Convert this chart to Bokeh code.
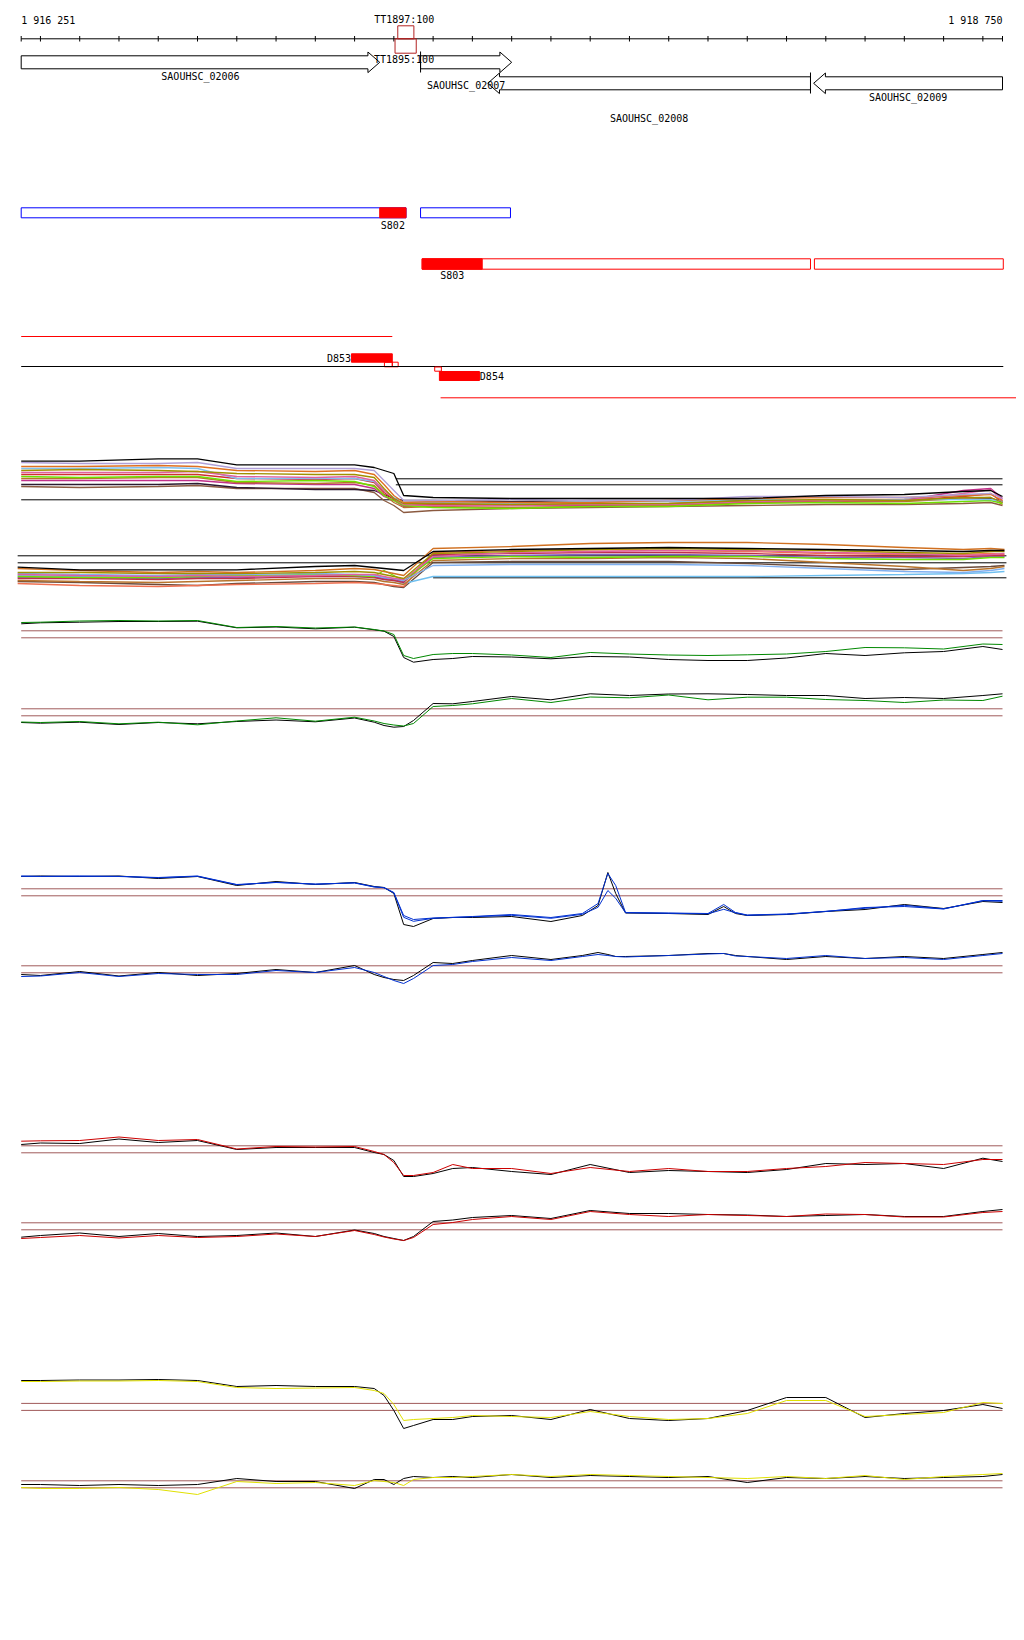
from bokeh.plotting import figure
from bokeh.layouts import column
from bokeh.models import Range1d
from bokeh.core.properties import value
from bokeh.embed import file_html
from bokeh.resources import INLINE

# ---------------- data ----------------
REGION_START = 1916251
REGION_END = 1918750
TICKS = [REGION_START] + list(range(1916300, 1918701, 100)) + [REGION_END]

GENE_NAMES = ["SAOUHSC_02006", "SAOUHSC_02007", "SAOUHSC_02008", "SAOUHSC_02009"]
GENE_START = [1916251, 1917268, 1917439, 1918269]
GENE_END = [1917164, 1917500, 1918261, 1918750]
GENE_STRAND = [1, 1, -1, -1]

TT_NAMES = ["TT1897:100", "TT1895:100"]
TT_START = [1917210, 1917203]
TT_END = [1917251, 1917257]

S_BLUE_START = [1916251, 1917268]
S_BLUE_END = [1917231, 1917497]
S802 = ("S802", 1917164, 1917231)
S_RED_START = [1917272, 1918271]
S_RED_END = [1918261, 1918752]
S803 = ("S803", 1917272, 1917425)

D_LINE_TOP = (1916251, 1917196)
D853 = ("D853", 1917092, 1917196)
D853_SMALL_START = [1917176, 1917196]
D853_SMALL_END = [1917196, 1917211]
D_AXIS = (1916251, 1918752)
D854_SMALL = (1917304, 1917321)
D854 = ("D854", 1917316, 1917418)
D_LINE_BOTTOM = (1917319, 1918800)

# multi-sample tracks
X_AB = [1916251, 1916400, 1916600, 1916700, 1916800, 1917000, 1917100, 1917150, 1917175,
        1917200, 1917225, 1917300, 1917500, 1917700, 1917900, 1918100, 1918300, 1918500,
        1918650, 1918720, 1918750]
A_COLORS = ["#000000", "#b0a0d8", "#e07020", "#a09000", "#e060a0", "#80c0f0", "#70e000",
            "#d03030", "#b8742c", "#c0308a", "#2a1a30", "#8b5a40"]
A_SERIES = [
    [2.83, 2.83, 3.07, 3.07, 2.47, 2.47, 2.47, 2.2, 1.9, 1.6, -0.6, -0.8, -0.9, -0.9, -0.9, -0.9, -0.6, -0.5, -0.2, -0.1, -0.7],
    [2.7, 2.6, 2.6, 2.7, 2.1, 2.1, 2.1, 1.9, 0.9, -0.1, -1.1, -1.1, -1.0, -1.1, -1.1, -0.7, -0.7, -0.8, -0.5, -0.4, -0.9],
    [2.3, 2.3, 2.4, 2.3, 1.9, 1.8, 1.9, 1.5, 0.5, -0.6, -1.3, -1.2, -1.3, -1.3, -1.1, -0.9, -0.8, -0.8, -0.6, -0.5, -1.1],
    [1.9, 2.0, 1.9, 1.8, 1.6, 1.5, 1.5, 1.2, 0.1, -0.9, -1.4, -1.4, -1.5, -1.4, -1.4, -1.1, -1.0, -1.1, -0.8, -0.8, -1.3],
    [1.7, 1.7, 1.7, 1.8, 1.3, 1.2, 1.3, 0.9, -0.1, -0.9, -1.5, -1.6, -1.6, -1.5, -1.5, -1.2, -1.1, -1.1, -0.4, 0.0, -1.1],
    [2.1, 2.1, 2.2, 2.1, 1.1, 1.1, 1.1, 0.8, -0.1, -0.8, -1.3, -1.3, -1.4, -1.2, -1.2, -1.0, -1.1, -1.0, -1.0, -1.0, -1.2],
    [1.3, 1.2, 1.3, 1.3, 0.8, 0.9, 0.8, 0.3, -0.6, -1.1, -1.6, -1.8, -1.9, -1.7, -1.7, -1.4, -1.3, -1.4, -1.2, -1.1, -1.4],
    [1.5, 1.5, 1.5, 1.5, 1.1, 1.0, 1.1, 0.7, -0.3, -1.0, -1.5, -1.5, -1.5, -1.5, -1.4, -1.2, -1.1, -1.1, -0.7, -0.4, -1.3],
    [1.1, 1.1, 1.2, 1.2, 0.7, 0.6, 0.7, 0.4, -0.5, -1.3, -1.8, -1.7, -1.8, -1.7, -1.6, -1.3, -1.2, -1.2, -0.9, -0.8, -1.5],
    [0.9, 0.9, 0.9, 0.9, 0.6, 0.5, 0.5, 0.1, -0.7, -1.1, -1.7, -1.6, -1.6, -1.6, -1.5, -1.3, -1.2, -1.1, -0.1, 0.1, -0.9],
    [0.5, 0.5, 0.5, 0.6, 0.2, 0.0, 0.0, -0.1, -0.5, -0.9, -1.1, -1.1, -1.2, -1.1, -1.1, -1.1, -1.1, -1.0, -0.9, -0.9, -1.2],
    [0.3, 0.2, 0.3, 0.4, 0.1, 0.1, 0.1, -0.3, -1.1, -1.6, -2.3, -2.1, -1.9, -1.8, -1.7, -1.6, -1.5, -1.5, -1.4, -1.3, -1.6],
]
A_THRESH = [-1.03, 1.07, 0.47]

X_B = [1916242, 1916400, 1916600, 1916700, 1916800, 1917000, 1917100, 1917150, 1917175,
       1917200, 1917225, 1917300, 1917500, 1917700, 1917900, 1918100, 1918300, 1918500,
       1918650, 1918720, 1918755]
B_COLORS = ["#000000", "#d07020", "#a09000", "#e060a0", "#80b0f0", "#70e000", "#c0304a",
            "#b8742c", "#f07050", "#8060c0", "#70c0f0", "#6a4a3a"]
B_SERIES = [
    [-0.07, -0.33, -0.33, -0.33, -0.33, 0.0, 0.1, -0.1, -0.2, -0.3, -0.4, 1.5, 1.7, 1.8, 1.9, 1.8, 1.7, 1.6, 1.5, 1.6, 1.6],
    [-0.2, -0.4, -0.6, -0.5, -0.6, -0.4, -0.2, -0.3, -0.5, -0.7, -0.9, 1.8, 2.0, 2.3, 2.4, 2.4, 2.2, 1.9, 1.7, 1.8, 1.7],
    [-0.6, -0.6, -0.7, -0.7, -0.7, -0.6, -0.5, -0.6, -0.8, -1.0, -1.2, 1.3, 1.5, 1.7, 1.8, 1.7, 1.6, 1.4, 1.3, 1.5, 1.5],
    [-0.8, -0.9, -1.0, -0.9, -1.0, -0.9, -0.8, -0.8, -1.0, -1.2, -1.3, 1.0, 1.4, 1.5, 1.6, 1.6, 1.4, 1.3, 1.1, 1.2, 1.3],
    [-0.7, -0.8, -0.9, -0.8, -0.8, -0.7, -0.8, -0.9, -1.1, -1.2, -1.4, 0.1, 0.2, 0.2, 0.2, 0.1, -0.2, -0.5, -0.6, -0.4, -0.2],
    [-1.0, -1.1, -1.1, -1.0, -0.9, -0.8, -0.9, -1.0, -0.4, -0.9, -1.4, 0.8, 1.0, 0.9, 1.0, 1.0, 0.8, 0.7, 0.7, 0.9, 0.9],
    [-1.2, -1.2, -1.3, -1.2, -1.2, -1.0, -1.0, -1.1, -1.3, -1.4, -1.6, 1.2, 1.3, 1.4, 1.4, 1.3, 1.1, 1.0, 1.0, 1.1, 1.1],
    [-1.4, -1.5, -1.6, -1.5, -1.4, -1.2, -1.2, -1.3, -1.5, -1.6, -1.8, 0.6, 0.8, 0.8, 0.9, 0.8, 0.4, 0.0, -0.4, -0.2, 0.0],
    [-1.7, -1.9, -2.0, -1.9, -1.8, -1.7, -1.6, -1.7, -1.8, -1.9, -2.0, 1.4, 1.6, 1.7, 1.6, 1.5, 1.3, 1.2, 1.2, 1.3, 1.2],
    [-1.1, -1.1, -1.2, -1.1, -1.1, -0.9, -0.9, -1.0, -1.2, -1.3, -1.5, 0.9, 1.1, 1.2, 1.2, 1.1, 0.9, 0.9, 0.8, 1.0, 1.0],
    [-0.9, -1.0, -1.0, -1.0, -1.0, -0.9, -1.0, -1.1, -1.3, -1.4, -1.7, -1.0, -1.0, -1.0, -1.0, -1.0, -0.9, -0.8, -0.7, -0.6, -0.5],
    [-1.5, -1.6, -1.8, -1.9, -1.7, -1.5, -1.5, -1.6, -1.8, -2.0, -2.1, 0.4, 0.5, 0.5, 0.5, 0.3, 0.0, -0.3, -0.1, 0.0, 0.1],
]
B_THRESH = [1.07, 0.37, -1.13]

# paired-sample tracks
X_LINES = [1916251, 1916300, 1916400, 1916500, 1916600, 1916700, 1916800, 1916900, 1917000,
           1917100, 1917150, 1917175, 1917200, 1917225, 1917250, 1917300, 1917350, 1917400,
           1917500, 1917600, 1917700, 1917800, 1917900, 1918000, 1918100, 1918200, 1918300,
           1918400, 1918500, 1918600, 1918700, 1918750]
BLUE_X = [1916251, 1916300, 1916400, 1916500, 1916600, 1916700, 1916800, 1916900, 1917000,
          1917100, 1917150, 1917175, 1917200, 1917225, 1917250, 1917300, 1917350, 1917400,
          1917500, 1917600, 1917680, 1917720, 1917745, 1917765, 1917790, 1917900, 1918000,
          1918040, 1918070, 1918100, 1918200, 1918300, 1918400, 1918500, 1918600, 1918700,
          1918750]
THRESH = [0.35, -0.35]

GREEN_TOP_BLACK = [1.05, 1.15, 1.21, 1.28, 1.28, 1.31, 0.65, 0.73, 0.55, 0.71, 0.45, 0.31, -0.22, -2.32, -2.79, -2.52, -2.42, -2.22, -2.27, -2.45, -2.22, -2.27, -2.52, -2.62, -2.62, -2.37, -1.92, -2.12, -1.85, -1.72, -1.22, -1.52]
GREEN_TOP = [1.18, 1.21, 1.33, 1.38, 1.33, 1.38, 0.68, 0.78, 0.63, 0.73, 0.48, 0.33, -0.02, -2.12, -2.42, -2.02, -1.92, -1.92, -2.07, -2.32, -1.82, -1.97, -2.07, -2.12, -2.05, -1.97, -1.72, -1.32, -1.35, -1.47, -0.97, -1.02]
GREEN_BOT_BLACK = [-1.02, -1.09, -0.99, -1.22, -1.02, -1.15, -0.92, -0.77, -0.95, -0.57, -0.99, -1.32, -1.49, -1.42, -0.82, 0.88, 0.85, 1.08, 1.58, 1.25, 1.85, 1.68, 1.83, 1.85, 1.78, 1.68, 1.68, 1.38, 1.48, 1.38, 1.68, 1.85]
GREEN_BOT = [-0.97, -1.02, -0.92, -1.15, -0.99, -1.25, -0.87, -0.55, -0.89, -0.49, -0.87, -1.12, -1.27, -1.37, -1.12, 0.58, 0.68, 0.85, 1.38, 0.98, 1.53, 1.45, 1.73, 1.25, 1.51, 1.51, 1.28, 1.18, 0.98, 1.23, 1.18, 1.61]

BLUE_TOP_BLACK = [1.58, 1.63, 1.58, 1.63, 1.38, 1.58, 0.68, 1.08, 0.78, 0.98, 0.58, 0.48, -0.12, -3.22, -3.42, -2.62, -2.52, -2.52, -2.42, -2.92, -2.32, -1.32, 1.98, -0.12, -2.07, -2.12, -2.22, -1.42, -2.12, -2.32, -2.22, -1.92, -1.72, -1.22, -1.62, -0.92, -1.02]
BLUE_TOP = [1.63, 1.58, 1.63, 1.58, 1.48, 1.63, 0.78, 0.98, 0.83, 0.93, 0.53, 0.48, -0.02, -2.32, -2.72, -2.57, -2.52, -2.42, -2.22, -2.52, -2.12, -1.12, 1.88, 0.68, -2.02, -2.07, -2.12, -1.22, -2.02, -2.27, -2.17, -1.92, -1.52, -1.42, -1.67, -0.82, -0.82]
BLUE_TOP_2 = [1.6, 1.6, 1.6, 1.6, 1.45, 1.6, 0.75, 1.0, 0.8, 0.95, 0.55, 0.45, -0.05, -2.5, -2.9, -2.6, -2.5, -2.45, -2.3, -2.6, -2.2, -1.5, 0.18, -0.6, -2.05, -2.1, -2.15, -1.7, -2.05, -2.3, -2.2, -1.9, -1.6, -1.3, -1.65, -0.85, -0.9]
BLUE_BOT_BLACK = [-0.52, -0.62, -0.22, -0.67, -0.32, -0.62, -0.42, -0.02, -0.32, 0.38, -0.52, -0.82, -1.02, -1.12, -0.62, 0.68, 0.58, 0.88, 1.38, 0.98, 1.38, 1.68, 1.48, 1.28, 1.28, 1.38, 1.58, 1.58, 1.38, 1.28, 0.98, 1.28, 1.08, 1.28, 1.08, 1.48, 1.68]
BLUE_BOT = [-0.72, -0.67, -0.32, -0.72, -0.42, -0.52, -0.52, -0.12, -0.32, 0.18, -0.32, -0.72, -1.12, -1.42, -0.92, 0.38, 0.48, 0.78, 1.18, 0.88, 1.28, 1.48, 1.38, 1.28, 1.23, 1.38, 1.53, 1.58, 1.33, 1.28, 1.08, 1.38, 1.08, 1.18, 0.98, 1.38, 1.58]

RED_TOP_BLACK = [0.48, 0.63, 0.58, 1.03, 0.68, 0.88, -0.02, 0.18, 0.18, 0.18, -0.32, -0.52, -1.12, -2.72, -2.72, -2.42, -1.92, -1.82, -2.22, -2.52, -1.52, -2.32, -2.12, -2.22, -2.32, -2.02, -1.42, -1.52, -1.42, -1.92, -0.89, -1.22]
RED_TOP = [0.81, 0.85, 0.88, 1.23, 0.88, 0.98, 0.03, 0.28, 0.23, 0.28, -0.22, -0.52, -1.32, -2.62, -2.62, -2.32, -1.52, -1.92, -1.92, -2.42, -1.82, -2.22, -1.92, -2.22, -2.22, -1.92, -1.72, -1.32, -1.42, -1.52, -1.02, -1.02]
RED_BOT_BLACK = [-1.09, -0.92, -0.67, -1.02, -0.72, -1.02, -0.92, -0.67, -1.02, -0.37, -0.72, -1.02, -1.22, -1.42, -1.02, 0.48, 0.63, 0.88, 1.08, 0.78, 1.58, 1.28, 1.28, 1.18, 1.13, 0.98, 1.08, 1.18, 0.98, 0.98, 1.48, 1.68]
RED_BOT = [-1.22, -1.12, -0.92, -1.17, -0.92, -1.12, -1.02, -0.77, -1.02, -0.42, -0.82, -1.07, -1.27, -1.42, -1.12, 0.18, 0.38, 0.68, 0.98, 0.68, 1.48, 1.18, 0.98, 1.18, 1.08, 0.98, 1.23, 1.18, 0.93, 0.93, 1.38, 1.48]

YEL_TOP_BLACK = [2.64, 2.64, 2.69, 2.69, 2.74, 2.64, 2.04, 2.14, 2.04, 2.04, 1.84, 1.14, -0.36, -2.16, -1.86, -1.26, -1.26, -0.96, -0.86, -1.26, -0.26, -1.16, -1.36, -1.16, -0.36, 0.94, 0.94, -1.06, -0.66, -0.36, 0.24, -0.16]
YEL_TOP = [2.54, 2.54, 2.59, 2.59, 2.64, 2.54, 1.94, 1.84, 1.89, 1.94, 1.64, 1.34, 0.24, -1.36, -1.26, -1.16, -1.06, -0.86, -0.96, -1.06, -0.46, -0.96, -1.26, -1.16, -0.66, 0.64, 0.64, -0.96, -0.76, -0.56, 0.44, 0.34]
YEL_BOT_BLACK = [-0.02, -0.02, -0.12, -0.02, -0.12, -0.02, 0.58, 0.28, 0.28, -0.42, 0.48, 0.48, -0.02, 0.58, 0.78, 0.68, 0.78, 0.68, 0.98, 0.68, 0.88, 0.78, 0.68, 0.78, 0.18, 0.68, 0.58, 0.78, 0.58, 0.68, 0.78, 0.98]
YEL_BOT = [-0.32, -0.42, -0.42, -0.32, -0.52, -1.02, 0.28, 0.08, 0.18, -0.12, 0.38, 0.28, 0.18, -0.12, 0.48, 0.68, 0.68, 0.78, 0.98, 0.78, 0.98, 0.88, 0.78, 0.68, 0.58, 0.78, 0.58, 0.88, 0.48, 0.78, 0.98, 1.08]

# ---------------- layout / style ----------------
W = 1016
FONT = value("DejaVu Sans Mono")
FSIZE = value("10px")
THRESH_COLOR = "#a05a5a"
PX_PER_BP = 0.39268
X0 = REGION_START - 20.7 / PX_PER_BP
xr = Range1d(X0, X0 + W / PX_PER_BP)


def base_fig(height, yr):
    p = figure(width=W, height=height, x_range=xr, y_range=yr, output_backend="svg",
               toolbar_location=None, x_axis_location=None, y_axis_location=None,
               min_border=0, min_border_left=0, min_border_right=0,
               min_border_top=0, min_border_bottom=0)
    p.grid.visible = False
    p.outline_line_color = None
    p.background_fill_color = "white"
    p.border_fill_color = "white"
    return p


labels = []


def label(x, y, t, align="center"):
    labels.append((x, y, t, align))


# ---- annotation figure: page rows 0..420 (y = page pixel row) ----
ann = base_fig(420, Range1d(420, 0))
# ruler
ann.segment(x0=[REGION_START], x1=[REGION_END], y0=[38.3], y1=[38.3], line_color="black", line_width=1)
ann.segment(x0=TICKS, x1=TICKS, y0=[35.5] * len(TICKS), y1=[41] * len(TICKS), line_color="black", line_width=1)
label(REGION_START, 20, f"{REGION_START:,}".replace(",", " "), "left")
label(REGION_END, 20, f"{REGION_END:,}".replace(",", " "), "right")

# genes
lane_c = [61.8, 61.8, 82.8, 82.8]
lab_y = [76, 85, 118, 97]
HEAD = 30
xs, ys = [], []
for s, e, st, c in zip(GENE_START, GENE_END, GENE_STRAND, lane_c):
    if st > 0:
        xs.append([s, e - HEAD, e - HEAD, e, e - HEAD, e - HEAD, s])
    else:
        xs.append([e, s + HEAD, s + HEAD, s, s + HEAD, s + HEAD, e])
    ys.append([c - 6.5, c - 6.5, c - 10.3, c, c + 10.3, c + 6.5, c + 6.5])
ann.patches(xs=xs, ys=ys, fill_color="white", line_color="black", line_width=1)
ann.segment(x0=[GENE_START[1], GENE_END[2]], x1=[GENE_START[1], GENE_END[2]],
            y0=[51, 72], y1=[72, 93], line_color="black", line_width=1)
for n, s, e, ly in zip(GENE_NAMES, GENE_START, GENE_END, lab_y):
    label((s + e) / 2, ly, n)

# TT boxes
tt_top = [25.3, 38.3]
tt_bot = [38.3, 52.7]
tt_lab = [19, 59]
ann.quad(left=TT_START, right=TT_END, top=tt_top, bottom=tt_bot, fill_color=None,
         line_color="#b22222", line_width=1)
for n, s, e, ly in zip(TT_NAMES, TT_START, TT_END, tt_lab):
    label((s + e) / 2 - 4, ly, n)

# segment tracks
ann.quad(left=S_BLUE_START, right=S_BLUE_END, top=[207.3] * 2, bottom=[217.3] * 2,
         fill_color=None, line_color="#0000ff", line_width=1)
ann.quad(left=[S802[1]], right=[S802[2]], top=[207.3], bottom=[217.3], fill_color="#ff0000",
         line_color="#ff0000")
label((S802[1] + S802[2]) / 2, 224.5, S802[0])
ann.quad(left=S_RED_START, right=S_RED_END, top=[258.3] * 2, bottom=[268.7] * 2,
         fill_color=None, line_color="#ff0000", line_width=1)
ann.quad(left=[S803[1]], right=[S803[2]], top=[258.3], bottom=[268.7], fill_color="#ff0000",
         line_color="#ff0000")
label((S803[1] + S803[2]) / 2, 274.5, S803[0])

ann.segment(x0=[D_LINE_TOP[0]], x1=[D_LINE_TOP[1]], y0=[336], y1=[336], line_color="#ff0000")
ann.quad(left=[D853[1]], right=[D853[2]], top=[353.3], bottom=[361.7], fill_color="#ff0000",
         line_color="#ff0000")
label(D853[1] - 1, 357.5, D853[0], "right")
ann.quad(left=D853_SMALL_START, right=D853_SMALL_END, top=[361.7] * 2, bottom=[366.3] * 2,
         fill_color=None, line_color="#ff0000")
ann.segment(x0=[D_AXIS[0]], x1=[D_AXIS[1]], y0=[366], y1=[366], line_color="black")
ann.quad(left=[D854_SMALL[0]], right=[D854_SMALL[1]], top=[366.5], bottom=[370.7],
         fill_color=None, line_color="#ff0000")
ann.quad(left=[D854[1]], right=[D854[2]], top=[371], bottom=[380], fill_color="#ff0000",
         line_color="#ff0000")
label(D854[2] + 1, 375.5, D854[0], "left")
ann.segment(x0=[D_LINE_BOTTOM[0]], x1=[D_LINE_BOTTOM[1]], y0=[397.3], y1=[397.3], line_color="#ff0000")

for lx, ly, lt, la in labels:
    ann.text(x=[lx], y=[ly], text=[lt], text_font=FONT, text_font_size=FSIZE,
             text_align=la, text_baseline="middle", text_color="black")


# ---- data tracks: (page top, page bottom, page row of value 0); 10 px per unit ----
def track_fig(top, bottom, zero):
    return base_fig(bottom - top, Range1d((zero - bottom) / 10.0, (zero - top) / 10.0))


figs = [ann]

pa = track_fig(420, 525, 489)
pa.segment(x0=[REGION_START, 1917205, 1917205], x1=[1917212, REGION_END, REGION_END],
           y0=A_THRESH, y1=A_THRESH, line_color="black", line_width=1)
for col, ser in list(zip(A_COLORS, A_SERIES))[::-1]:
    pa.line(X_AB, ser, line_color=col, line_width=1.3)
figs.append(pa)

pb = track_fig(525, 600, 566)
pb.segment(x0=[1916242, 1916242, 1917300], x1=[1918760, 1918760, 1918760],
           y0=B_THRESH, y1=B_THRESH, line_color="black", line_width=1)
for col, ser in list(zip(B_COLORS, B_SERIES))[::-1]:
    pb.line(X_B, ser, line_color=col, line_width=1.3)
figs.append(pb)

PAIRS = [
    ((600, 672, 633.8), X_LINES, [GREEN_TOP_BLACK], [GREEN_TOP], "#008800"),
    ((672, 860, 711.8), X_LINES, [GREEN_BOT_BLACK], [GREEN_BOT], "#008800"),
    ((860, 935, 891.8), BLUE_X, [BLUE_TOP_BLACK], [BLUE_TOP, BLUE_TOP_2], "#0030d0"),
    ((935, 1130, 968.8), BLUE_X, [BLUE_BOT_BLACK], [BLUE_BOT], "#0030d0"),
    ((1130, 1195, 1148.8), X_LINES, [RED_TOP_BLACK], [RED_TOP], "#cc0000"),
    ((1195, 1360, 1225.8), X_LINES, [RED_BOT_BLACK], [RED_BOT], "#cc0000"),
    ((1360, 1445, 1406.4), X_LINES, [YEL_TOP_BLACK], [YEL_TOP], "#e0e000"),
    ((1445, 1632, 1483.8), X_LINES, [YEL_BOT_BLACK], [YEL_BOT], "#e0e000"),
]
for (top, bottom, zero), xv, blks, cols, col in PAIRS:
    p = track_fig(top, bottom, zero)
    p.segment(x0=[REGION_START] * 2, x1=[REGION_END] * 2, y0=THRESH, y1=THRESH,
              line_color=THRESH_COLOR, line_width=1)
    for blk in blks:
        p.line(xv, blk, line_color="black", line_width=1)
    for cv in cols:
        p.line(xv, cv, line_color=col, line_width=1)
    figs.append(p)

layout = column(*figs, spacing=0)
open("out.html", "w").write(file_html(layout, INLINE))
